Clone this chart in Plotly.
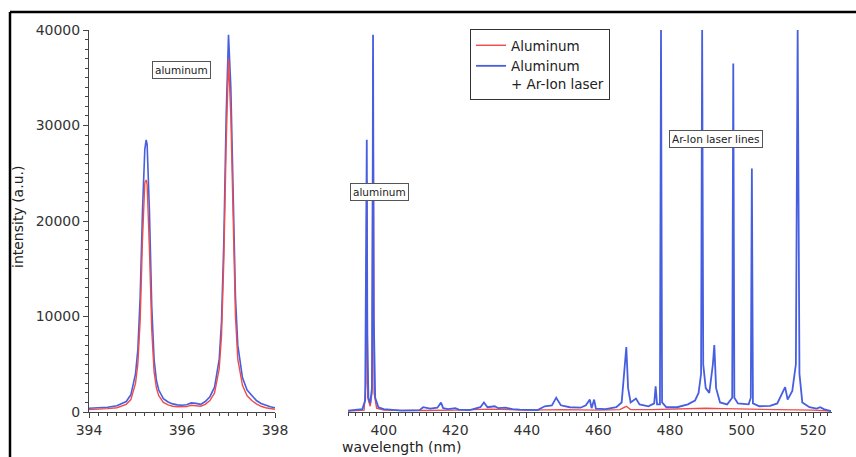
import plotly.graph_objects as go

# ---------------- data ----------------
# Left panel (zoom on Al doublet)
wl_left = [394.0, 394.2, 394.4, 394.6, 394.8, 394.9, 395.0, 395.05, 395.1, 395.15,
           395.2, 395.23, 395.25, 395.3, 395.35, 395.4, 395.45, 395.5, 395.6, 395.7,
           395.8, 395.9, 396.0, 396.1, 396.2, 396.3, 396.4, 396.5, 396.6, 396.7,
           396.8, 396.85, 396.9, 396.95, 397.0, 397.05, 397.1, 397.15, 397.2, 397.3,
           397.4, 397.5, 397.6, 397.7, 397.8, 397.9, 398.0]
al_left = [250, 280, 350, 450, 800, 1300, 3000, 5000, 9500, 18000,
           24000, 24300, 23800, 17000, 8500, 4200, 2500, 1700, 1000, 750,
           600, 550, 520, 560, 700, 650, 600, 800, 1200, 2000,
           4500, 8000, 16000, 28000, 37000, 31000, 19500, 10000, 5500, 2800,
           1700, 1200, 850, 600, 450, 350, 280]
al_laser_left = [400, 420, 500, 650, 1100, 1800, 4000, 6500, 12000, 21000,
                 27500, 28500, 28000, 21000, 11000, 5500, 3300, 2300, 1400, 1050,
                 850, 750, 700, 750, 950, 900, 800, 1100, 1600, 2600,
                 5500, 9500, 18000, 31000, 39500, 34000, 22000, 12000, 7000, 3600,
                 2300, 1700, 1200, 900, 700, 550, 450]

# Right panel (full spectrum)
wl_right_al = [390, 394.5, 395.0, 395.25, 395.5, 396.2, 396.7, 397.0, 397.3, 398,
               400, 410, 420, 430, 440, 450, 460, 466, 467.8, 469,
               475, 480, 485, 490, 495, 500, 510, 520, 525]
al_right = [100, 200, 3000, 24300, 1500, 600, 2000, 37000, 2000, 400,
            200, 150, 200, 300, 200, 250, 200, 250, 600, 250,
            250, 300, 350, 400, 350, 300, 250, 200, 100]

wl_right_laser = [390.0, 392, 394, 394.8, 395.1, 395.25, 395.4, 395.7, 396.2, 396.7,
                  396.9, 397.0, 397.2, 397.6, 398.5, 400, 405, 410, 411, 413,
                  415, 416, 416.6, 418, 420, 421, 424, 427, 428, 429,
                  431, 432, 434, 436, 438, 440, 443, 445, 447, 448.2,
                  449.5, 452, 455, 456.5, 457.6, 458.1, 458.8, 459.3, 462, 465,
                  466.5, 467.4, 467.8, 468.3, 469, 470.5, 471.5, 474, 475.6, 476.0,
                  476.4, 477.2, 477.5, 477.8, 479, 482, 485, 487, 488, 488.7,
                  489.0, 489.3, 490, 491, 492.0, 492.4, 492.9, 494, 496, 497.4,
                  497.7, 498.0, 499, 502, 502.6, 502.9, 503.2, 505, 508, 510,
                  511.5, 512.2, 512.9, 514.2, 515.2, 515.7, 516.2, 517, 519, 521,
                  522, 523, 525]
al_laser_right = [150, 200, 300, 1200, 15000, 28500, 8000, 1500, 900, 2500,
                  22000, 39500, 10000, 1500, 500, 300, 150, 200, 500, 350,
                  450, 1000, 400, 300, 400, 250, 200, 500, 1000, 500,
                  600, 400, 450, 300, 250, 200, 200, 600, 700, 1500,
                  700, 500, 450, 700, 1300, 400, 1300, 350, 300, 500,
                  1000, 5000, 6800, 2500, 1000, 1400, 800, 600, 900, 2700,
                  800, 800, 40000, 1000, 500, 500, 800, 1200, 2000, 4000,
                  40000, 5000, 2500, 2000, 5000, 7000, 2500, 1000, 800, 1500,
                  36500, 1500, 900, 800, 1500, 25500, 900, 600, 650, 900,
                  2000, 2600, 1300, 2200, 5000, 40000, 4000, 1000, 500, 350,
                  500, 300, 100]

series_names = ["Aluminum", "Aluminum<br>+ Ar-Ion laser"]
left_xticks = [394, 396, 398]
right_xticks = [400, 420, 440, 460, 480, 500, 520]
yticks = [0, 10000, 20000, 30000, 40000]

RED = "rgb(240,75,75)"
BLUE = "rgb(70,95,225)"
FONT = "DejaVu Sans"
AX = "#444444"

fig = go.Figure()
fig.add_trace(go.Scatter(x=wl_left, y=al_laser_left, mode="lines", xaxis="x", yaxis="y",
                         line=dict(color=BLUE, width=1.6), showlegend=False))
fig.add_trace(go.Scatter(x=wl_left, y=al_left, mode="lines", xaxis="x", yaxis="y",
                         line=dict(color=RED, width=1.4), showlegend=False))
fig.add_trace(go.Scatter(x=wl_right_al, y=al_right, mode="lines", xaxis="x2", yaxis="y",
                         line=dict(color=RED, width=1.4), name=series_names[0]))
fig.add_trace(go.Scatter(x=wl_right_laser, y=al_laser_right, mode="lines", xaxis="x2", yaxis="y",
                         line=dict(color=BLUE, width=1.8), name=series_names[1]))

W, H = 856, 457
def px(x): return x / W
def py(y): return (H - y) / H

tickfont = dict(family=FONT, size=14, color="#333333")
common_x = dict(showline=True, linecolor=AX, linewidth=1, ticks="outside", ticklen=5,
                tickcolor=AX, showgrid=False, zeroline=False, tickfont=tickfont,
                anchor="y", ticklabelstandoff=0, automargin=False)

box = dict(xref="paper", yref="paper", showarrow=False, xanchor="center", yanchor="middle",
           font=dict(family=FONT, size=10.5, color="#222222"),
           bordercolor="#555555", borderwidth=1, borderpad=2, bgcolor="white")

fig.update_layout(
    width=W, height=H, margin=dict(l=0, r=0, t=0, b=0, pad=0, autoexpand=False),
    paper_bgcolor="white", plot_bgcolor="white",
    font=dict(family=FONT, size=14, color="#222222"),
    xaxis=dict(domain=[px(89), px(275)], range=[394, 398], tickvals=left_xticks,
               minor=dict(dtick=0.2, ticks="outside", ticklen=3, tickcolor=AX),
               **common_x),
    xaxis2=dict(domain=[px(348), px(832)], range=[390, 525.3], tickvals=right_xticks,
                minor=dict(dtick=2, ticks="outside", ticklen=3, tickcolor=AX),
                **common_x),
    yaxis=dict(domain=[py(412), py(30)], range=[0, 40000], tickvals=yticks, tickformat="d",
               showline=True, linecolor=AX, linewidth=1, ticks="outside", ticklen=5,
               tickcolor=AX, showgrid=False, zeroline=False, tickfont=tickfont,
               minor=dict(dtick=1000, ticks="outside", ticklen=3, tickcolor=AX),
               anchor="x", automargin=False),
    legend=dict(x=px(470), y=py(29), xanchor="left", yanchor="top",
                bordercolor="#333333", borderwidth=1, bgcolor="white",
                font=dict(family=FONT, size=13.5, color="#222222"),
                valign="top", tracegroupgap=0, itemwidth=30),
    annotations=[
        dict(text="aluminum", x=px(181), y=py(70), **box),
        dict(text="aluminum", x=px(379), y=py(192), **box),
        dict(text="Ar-Ion laser lines", x=px(716), y=py(138.5), **box),
        dict(text="intensity (a.u.)", x=px(18), y=py(217), xref="paper", yref="paper",
             xanchor="center", yanchor="middle",
             showarrow=False, textangle=-90, font=dict(family=FONT, size=14, color="#222222")),
        dict(text="wavelength (nm)", x=px(401), y=py(447), xref="paper", yref="paper",
             showarrow=False, font=dict(family=FONT, size=14, color="#222222"),
             xanchor="center", yanchor="middle"),
    ],
    shapes=[
        dict(type="line", xref="paper", yref="paper", x0=px(10), x1=1.0, y0=py(12), y1=py(12),
             line=dict(color="black", width=2.5)),
        dict(type="line", xref="paper", yref="paper", x0=px(10), x1=px(10), y0=py(12), y1=0,
             line=dict(color="black", width=2.5)),
    ],
)

fig.write_html("out.html")
